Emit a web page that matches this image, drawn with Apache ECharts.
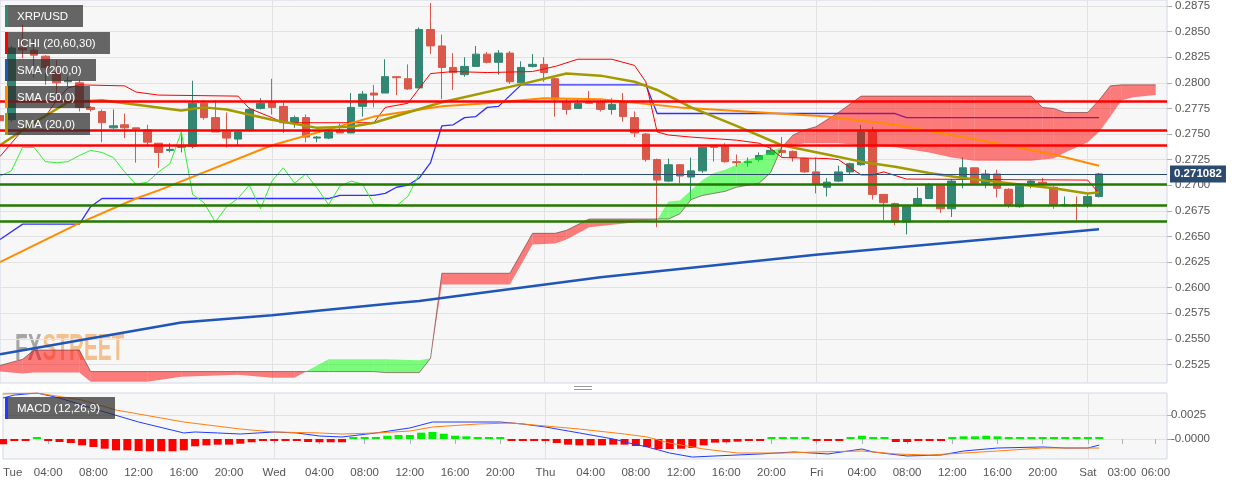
<!DOCTYPE html>
<html><head><meta charset="utf-8">
<script src="https://cdn.jsdelivr.net/npm/echarts@6/dist/echarts.min.js"></script>
<style>html,body{margin:0;padding:0;background:#fff}#c{width:1244px;height:485px}</style>
</head><body><div id="c"></div>
<script>
// ---------- DATA ----------
const hourCount = 104; // Tue 00:00 .. Sat 07:00, hourly categories
const tickIdx  = [0,4,8,12,16,20,24,28,32,36,40,44,48,52,56,60,64,68,72,76,80,84,88,92,96,99,102];
const tickText = ['Tue','04:00','08:00','12:00','16:00','20:00','Wed','04:00','08:00','12:00','16:00','20:00','Thu','04:00','08:00','12:00','16:00','20:00','Fri','04:00','08:00','12:00','16:00','20:00','Sat','03:00','06:00'];
const yTicks = [0.2525,0.2550,0.2575,0.2600,0.2625,0.2650,0.2675,0.2700,0.2725,0.2750,0.2775,0.2800,0.2825,0.2850,0.2875];
const macdTicks = [0, 0.0025];

const opens  = [0.2768,0.2764,0.2834,0.2832,0.2826,0.2810,0.2801,0.2800,0.2776,0.2772,0.2756,0.2759,0.2756,0.2754,0.2741,0.2734,0.2737,0.2738,0.2780,0.2766,0.2752,0.2745,0.2754,0.2775,0.2781,0.2777,0.2761,0.2766,0.2746,0.2746,0.2754,0.2751,0.2777,0.2790,0.2790,0.2806,0.2804,0.2795,0.2852,0.2836,0.2815,0.2808,0.2816,0.2828,0.2820,0.2829,0.2800,0.2816,0.2818,0.2804,0.2781,0.2775,0.2781,0.2781,0.2774,0.2781,0.2766,0.2750,0.2725,0.2704,0.2720,0.2708,0.2714,0.2739,0.2738,0.2723,0.2722,0.2725,0.2730,0.2734,0.2733,0.2726,0.2713,0.2698,0.2704,0.2713,0.2720,0.2753,0.2691,0.2682,0.2664,0.2680,0.2687,0.2700,0.2677,0.2707,0.2717,0.2702,0.2711,0.2696,0.2679,0.2702,0.2703,0.2698,0.2680,0.2681,0.2680,0.2689];
const closes = [0.2763,0.2834,0.2832,0.2827,0.2815,0.2800,0.2802,0.2776,0.2774,0.2761,0.2758,0.2756,0.2755,0.2742,0.2732,0.2735,0.2738,0.2780,0.2766,0.2752,0.2746,0.2752,0.2774,0.2780,0.2776,0.2761,0.2766,0.2747,0.2747,0.2752,0.2751,0.2776,0.2789,0.2788,0.2806,0.2805,0.2794,0.2852,0.2836,0.2815,0.2810,0.2816,0.2828,0.2820,0.2829,0.2801,0.2815,0.2818,0.2810,0.2784,0.2774,0.2780,0.2780,0.2774,0.2779,0.2767,0.2751,0.2725,0.2705,0.2720,0.2709,0.2714,0.2737,0.2737,0.2723,0.2722,0.2723,0.2729,0.2734,0.2732,0.2727,0.2713,0.2701,0.2703,0.2713,0.2721,0.2752,0.2691,0.2683,0.2664,0.2679,0.2687,0.2700,0.2677,0.2704,0.2717,0.2702,0.2711,0.2697,0.2681,0.2699,0.2704,0.2701,0.2681,0.2681,0.2680,0.2689,0.2711];
const lows   = [0.2761,0.2762,0.2824,0.2805,0.2798,0.2788,0.2796,0.2772,0.2772,0.2742,0.2755,0.2746,0.2722,0.2738,0.2717,0.2732,0.2732,0.2736,0.2764,0.2752,0.2737,0.2739,0.2752,0.2774,0.2769,0.2751,0.2756,0.2742,0.2742,0.2745,0.2751,0.2751,0.2767,0.2776,0.2790,0.2788,0.2793,0.2795,0.2828,0.2784,0.2793,0.2806,0.2816,0.2819,0.2808,0.2799,0.2800,0.2815,0.2801,0.2767,0.2769,0.2775,0.2780,0.2772,0.2769,0.2762,0.2747,0.2723,0.2659,0.2703,0.2702,0.2686,0.2712,0.2723,0.2722,0.2718,0.2718,0.2723,0.2730,0.2728,0.2723,0.2712,0.2692,0.2689,0.2703,0.2710,0.2719,0.2686,0.2666,0.2661,0.2652,0.2679,0.2687,0.2673,0.2669,0.2697,0.2700,0.2697,0.2688,0.2678,0.2678,0.2697,0.2700,0.2677,0.2679,0.2665,0.2678,0.2688];
const highs  = [0.2771,0.2836,0.2857,0.2842,0.2827,0.2822,0.2806,0.2803,0.2777,0.2774,0.2774,0.2770,0.2756,0.2759,0.2741,0.2741,0.2752,0.2802,0.2783,0.2783,0.2771,0.2752,0.2776,0.2785,0.2804,0.2781,0.2768,0.2769,0.2748,0.2754,0.2760,0.2790,0.2792,0.2798,0.2823,0.2806,0.2818,0.2854,0.2878,0.2847,0.2829,0.2825,0.2836,0.2830,0.2832,0.2831,0.2821,0.2828,0.2825,0.2805,0.2785,0.2785,0.2792,0.2783,0.2785,0.2790,0.2772,0.2751,0.2726,0.2726,0.2720,0.2727,0.2737,0.2739,0.2741,0.2730,0.2727,0.2732,0.2737,0.2747,0.2734,0.2727,0.2727,0.2707,0.2719,0.2722,0.2759,0.2757,0.2691,0.2683,0.2679,0.2698,0.2702,0.2700,0.2706,0.2727,0.2717,0.2715,0.2715,0.2697,0.2702,0.2705,0.2707,0.2699,0.2689,0.2689,0.2692,0.2712];
const lastPrice = 0.271082;

const sma200 = [[0,0.2535],[16,0.2566],[24,0.2573],[35,0.2585],[37,0.2587],[53,0.2610],[72,0.2632],[97,0.2657]];
const sma50  = [[0,0.2625],[7,0.2663],[12,0.2687],[14,0.2695],[24,0.2739],[33,0.2767],[39,0.2777],[43,0.2780],[48,0.2785],[53,0.2784],[60,0.2776],[73,0.2767],[79,0.2759],[88,0.2741],[93,0.2730],[97,0.2719]];
const sma20  = [[0,0.2739],[3,0.2761],[6,0.2781],[9,0.2783],[16,0.2773],[18,0.2776],[20,0.2774],[24,0.2764],[28,0.2756],[31,0.2757],[33,0.2761],[36,0.2771],[39,0.2781],[45,0.2796],[50,0.2809],[53,0.2807],[56,0.2801],[58,0.2793],[61,0.2776],[65,0.2758],[69,0.2739],[73,0.2730],[76,0.2723],[79,0.2718],[82,0.2712],[85,0.2707],[89,0.2702],[93,0.2697],[96,0.2692],[97,0.2693]];
const tenkan = [[0,0.2728],[2,0.2754],[4,0.2767],[5,0.2783],[6,0.2795],[7,0.2798],[11,0.2797],[12,0.2791],[14,0.2788],[21,0.2787],[22,0.2775],[24,0.2766],[25,0.2761],[33,0.2761],[34,0.2776],[36,0.2780],[38,0.2809],[40,0.2811],[43,0.2810],[47,0.2811],[49,0.2816],[51,0.2823],[54,0.2823],[56,0.2817],[57,0.2801],[58,0.2752],[59,0.2749],[61,0.2747],[65,0.2744],[67,0.2741],[68,0.2736],[69,0.2727],[73,0.2726],[74,0.2725],[76,0.2710],[77,0.2710],[78,0.2713],[80,0.2706],[96,0.2705],[97,0.2692]];
const kijun  = [[0,0.2647],[2,0.2662],[7,0.2662],[8,0.2679],[9,0.2687],[29,0.2687],[30,0.2690],[33,0.2690],[34,0.2692],[35,0.2698],[36,0.2700],[37,0.2707],[38,0.2722],[39,0.2758],[40,0.2759],[41,0.2766],[42,0.2767],[43,0.2776],[44,0.2777],[46,0.2798],[57,0.2798],[58,0.2770],[79,0.2770],[80,0.2766],[97,0.2766]];
const chikouShift = 60;

const cloudIdx = [0,2,3,7,8,13,16,21,24,26,27,29,33,34,37,38,39,45,47,49,50,52,58,59,60,61,62,63,64,65,66,67,68,69,70,71,72,74,76,79,82,84,86,91,92,93,94,96,97,98,99,100,102];
const cloudA   = [0.2518,0.2516,0.2517,0.2517,0.2508,0.2508,0.2513,0.2515,0.2512,0.2512,0.2518,0.2530,0.2530,0.2530,0.2529,0.2531,0.2603,0.2603,0.2642,0.2643,0.2647,0.2659,0.2666,0.2684,0.2685,0.2695,0.2705,0.2712,0.2715,0.2720,0.2725,0.2728,0.2733,0.2737,0.2739,0.2741,0.2741,0.2741,0.2739,0.2737,0.2732,0.2727,0.2724,0.2724,0.2725,0.2726,0.2732,0.2742,0.2752,0.2767,0.2783,0.2786,0.2788];
const cloudB   = [0.2524,0.2530,0.2539,0.2539,0.2518,0.2518,0.2518,0.2518,0.2518,0.2518,0.2518,0.2518,0.2518,0.2517,0.2517,0.2531,0.2614,0.2614,0.2653,0.2653,0.2656,0.2667,0.2667,0.2667,0.2672,0.2686,0.2690,0.2692,0.2694,0.2698,0.2700,0.2702,0.2712,0.2737,0.2749,0.2754,0.2757,0.2771,0.2787,0.2787,0.2787,0.2787,0.2787,0.2787,0.2776,0.2775,0.2771,0.2771,0.2783,0.2797,0.2798,0.2798,0.2798];

const redLevels   = [0.27815, 0.27532, 0.27386];
const greenLevels = [0.27009, 0.26800, 0.26644];

const macdLine = [[0,0.00427],[1,0.00458],[3,0.00479],[5,0.00427],[9,0.00281],[12,0.00177],[16,0.00063],[17,0.00073],[19,0.00063],[21,0.00052],[24,0.00073],[26,0.00063],[28,0.00031],[30,0.00021],[33,0.00063],[36,0.00115],[38,0.00177],[44,0.00177],[46,0.00156],[48,0.00125],[51,0.00063],[54,0.0],[55,-0.00031],[57,-0.00083],[59,-0.00146],[61,-0.00188],[63,-0.00177],[67,-0.00156],[70,-0.00135],[73,-0.00156],[76,-0.00104],[77,-0.00135],[80,-0.00177],[83,-0.00167],[85,-0.00125],[88,-0.00094],[92,-0.00083],[94,-0.00094],[96,-0.00094],[97,-0.00063]];
const macdSignal = [[0,0.00469],[3,0.00479],[7,0.00406],[10,0.00302],[16,0.00177],[21,0.00104],[24,0.00073],[28,0.00063],[30,0.00052],[33,0.00063],[36,0.00083],[38,0.00125],[42,0.00156],[45,0.00167],[47,0.00146],[51,0.00104],[55,0.00052],[57,0.00021],[59,-0.00042],[62,-0.00104],[65,-0.00146],[69,-0.00146],[72,-0.00135],[76,-0.00125],[79,-0.00156],[82,-0.00167],[85,-0.00146],[88,-0.00125],[92,-0.00094],[95,-0.00094],[97,-0.00094]];
const macdHist = [-0.00055,-0.00014,-0.00003,0.00005,-0.00005,-0.00031,-0.00042,-0.00066,-0.00083,-0.00101,
 -0.00118,-0.00118,-0.00125,-0.00128,-0.00128,-0.00128,-0.00118,-0.00076,-0.00066,-0.00059,
 -0.00059,-0.00049,-0.00034,-0.00014,-0.0001,-0.0001,-0.0001,-0.00031,-0.00034,-0.00034,
 -0.00034,0.00005,0.00014,0.00021,0.00034,0.00042,0.00042,0.00066,0.00073,0.00055,
 0.00034,0.00028,0.00021,0.00014,0.0001,-0.00005,-0.00005,-0.00014,-0.00021,-0.00042,
 -0.00059,-0.00066,-0.00066,-0.00066,-0.00059,-0.00059,-0.00073,-0.00083,-0.00104,-0.00104,
 -0.00101,-0.00094,-0.00066,-0.00038,-0.00034,-0.00028,-0.00021,-0.0001,0.00005,0.00007,
 0.00007,0.00007,-0.00005,-0.00007,-0.00005,0.00005,0.00034,0.0001,0.00005,-0.00031,
 -0.00031,-0.00021,-0.00005,-0.00005,0.00005,0.00028,0.00028,0.00034,0.00028,0.00021,
 0.00021,0.00021,0.00021,0.00007,0.00007,0.00007,0.00007,0.00021];

// ---------- BUILD ----------
const cats = []; for (let i = 0; i < hourCount; i++) cats.push(i);
const tickMap = {}; tickIdx.forEach((k, j) => tickMap[k] = tickText[j]);
const candleData = opens.map((o, i) => [o, closes[i], lows[i], highs[i]]);
const chikou = closes.slice(chikouShift).map((v, i) => [i, v]);
const cloudData = cloudIdx.map((x, k) => [x, cloudA[k], cloudB[k]]);
const FONT = '"Liberation Sans", Arial, sans-serif';
const UP = '#338772', DOWN = '#d9584a';

const legendBoxes = [
  {text:'XRP/USD', color:'#2f8a72', y:5, w:78},
  {text:'ICHI (20,60,30)', color:'#ff0000', y:32, w:105},
  {text:'SMA (200,0)', color:'#1f56b8', y:59, w:91},
  {text:'SMA (50,0)', color:'#ff8c00', y:86, w:85},
  {text:'SMA (20,0)', color:'#a39a00', y:113, w:85},
  {text:'MACD (12,26,9)', color:'#1f3cff', y:397, w:110}
];
const graphics = [];
legendBoxes.forEach(b => {
  graphics.push({type:'rect', z:100, shape:{x:5, y:b.y, width:b.w, height:22}, style:{fill:'rgba(45,45,45,0.72)'}});
  graphics.push({type:'rect', z:101, shape:{x:5, y:b.y, width:3, height:22}, style:{fill:b.color}});
  graphics.push({type:'text', z:101, x:17, y:b.y + 11.5, style:{text:b.text, fill:'#fff', font:'11.5px ' + FONT, verticalAlign:'middle', align:'left'}});
});
graphics.push({type:'group', x:15, y:350, scaleX:0.56, z:1, children:[
  {type:'text', x:0, y:0, style:{text:'FX', fill:'rgba(110,110,110,0.6)', font:'bold 37px ' + FONT, verticalAlign:'middle'}},
  {type:'text', x:49, y:0, style:{text:'STREET', fill:'rgba(240,140,40,0.5)', font:'bold 37px ' + FONT, verticalAlign:'middle'}}
]});
graphics.push({type:'line', z:100, shape:{x1:574, y1:386.5, x2:592, y2:386.5}, style:{stroke:'#999', lineWidth:1}});
graphics.push({type:'line', z:100, shape:{x1:574, y1:389.5, x2:592, y2:389.5}, style:{stroke:'#999', lineWidth:1}});

const dayLine = (i) => i % 24 === 0 && i > 0;
const lineS = (data, color, width, z) => ({type:'line', data, xAxisIndex:0, yAxisIndex:0, symbol:'none', smooth:false, z, lineStyle:{color, width}, silent:true});

const chart = echarts.init(document.getElementById('c'));
chart.setOption({
  animation: false,
  textStyle: {fontFamily: FONT},
  graphic: graphics,
  grid: [
    {left:0, right:77, top:0, height:383, show:true, backgroundColor:'#f7f7f7', borderColor:'#d3d7e6', borderWidth:1},
    {left:0, right:77, top:393, height:66, show:true, backgroundColor:'#f7f7f7', borderColor:'#d3d7e6', borderWidth:1}
  ],
  xAxis: [
    {type:'category', gridIndex:0, data:cats, boundaryGap:false, axisLine:{show:false}, axisTick:{show:false}, axisLabel:{show:false},
     splitLine:{show:true, interval:(i)=>dayLine(i), lineStyle:{color:'#e2e2e2', width:1}}},
    {type:'category', gridIndex:1, data:cats, boundaryGap:false, axisLine:{show:false},
     axisTick:{show:true, interval:(i)=>tickMap[i]!==undefined, length:5, lineStyle:{color:'#aab0c4'}},
     axisLabel:{show:true, interval:(i)=>tickMap[i]!==undefined, formatter:(v,i)=>tickMap[i]||'', color:'#555', fontSize:11.5, margin:8, alignMinLabel:'left'},
     splitLine:{show:true, interval:(i)=>dayLine(i), lineStyle:{color:'#e2e2e2', width:1}}}
  ],
  yAxis: [
    {type:'value', gridIndex:0, position:'right', min:0.250684, max:0.288086, axisLine:{show:false},
     axisTick:{show:true, customValues:yTicks, length:5, lineStyle:{color:'#aab0c4'}},
     axisLabel:{customValues:yTicks, formatter:(v)=>v.toFixed(4), color:'#555', fontSize:11.5, margin:8},
     splitLine:{show:true, lineStyle:{color:'#e2e2e2', width:1}}},
    {type:'value', gridIndex:1, position:'right', min:-0.002083, max:0.004792, axisLine:{show:false},
     axisTick:{show:true, customValues:macdTicks, length:5, lineStyle:{color:'#aab0c4'}},
     axisLabel:{customValues:macdTicks, formatter:(v)=> Math.abs(v) < 1e-9 ? '-0.0000' : v.toFixed(4), color:'#555', fontSize:11.5, margin:4},
     splitLine:{show:true, lineStyle:{color:'#e2e2e2', width:1}}}
  ],
  series: [
    lineS(kijun, '#3030ff', 1.3, 2),
    {type:'candlestick', xAxisIndex:0, yAxisIndex:0, data:candleData, barWidth:8, z:3, silent:true,
     itemStyle:{color:UP, color0:DOWN, borderColor:UP, borderColor0:DOWN, borderWidth:1}},
    {type:'custom', xAxisIndex:0, yAxisIndex:0, data:cloudData, z:4, silent:true, clip:true,
     encode:{x:0, y:[1,2]},
     renderItem:function(params, api){
       const k = params.dataIndex;
       if (k >= cloudIdx.length - 1) return;
       const p1 = api.coord([cloudIdx[k], cloudA[k]]);
       const p2 = api.coord([cloudIdx[k+1], cloudA[k+1]]);
       const p3 = api.coord([cloudIdx[k+1], cloudB[k+1]]);
       const p4 = api.coord([cloudIdx[k], cloudB[k]]);
       const d = (cloudA[k]-cloudB[k]) + (cloudA[k+1]-cloudB[k+1]);
       return {type:'polygon', shape:{points:[p1,p2,p3,p4]}, style:{fill: d >= 0 ? 'rgba(0,255,0,0.5)' : 'rgba(255,0,0,0.5)'}};
     }},
    lineS(cloudIdx.map((x,k)=>[x, cloudB[k]]), 'rgba(100,55,55,0.6)', 1, 4),
    lineS(chikou, '#33ee33', 1, 5),
    lineS(tenkan, '#ff0000', 1, 5),
    lineS(sma200, '#1f56b8', 2.5, 6),
    lineS(sma50, '#ff8c00', 2, 6),
    lineS(sma20, '#a39a00', 2.5, 6),
    {type:'line', xAxisIndex:0, yAxisIndex:0, data:[], z:10, silent:true,
     markLine:{silent:true, symbol:'none', precision:6, z:10, label:{show:false},
       data: redLevels.map(v=>({yAxis:v, lineStyle:{color:'#ff0000', width:2.5, type:'solid'}}))
         .concat(greenLevels.map(v=>({yAxis:v, lineStyle:{color:'#237a00', width:2.5, type:'solid'}})))}},
    {type:'line', xAxisIndex:0, yAxisIndex:0, data:[], z:11, silent:true,
     markLine:{silent:true, symbol:'none', precision:6, z:11, data:[{yAxis:lastPrice}],
       lineStyle:{color:'#2b4a6e', width:1, type:'solid'},
       label:{show:true, position:'end', formatter:String(lastPrice), backgroundColor:'#2b4a6e', color:'#fff', fontSize:11.5, fontWeight:'bold', padding:[3,4,2,4], distance:3}}},
    {type:'bar', xAxisIndex:1, yAxisIndex:1, data:macdHist, barWidth:8, barMinHeight:2, silent:true, z:3,
     itemStyle:{color:(p)=> p.value >= 0 ? '#00ee00' : '#ff0000'}},
    {type:'line', xAxisIndex:1, yAxisIndex:1, data:macdLine, symbol:'none', z:5, silent:true, lineStyle:{color:'#1f3cff', width:1}},
    {type:'line', xAxisIndex:1, yAxisIndex:1, data:macdSignal, symbol:'none', z:5, silent:true, lineStyle:{color:'#ff7f0e', width:1}}
  ]
});
</script></body></html>
